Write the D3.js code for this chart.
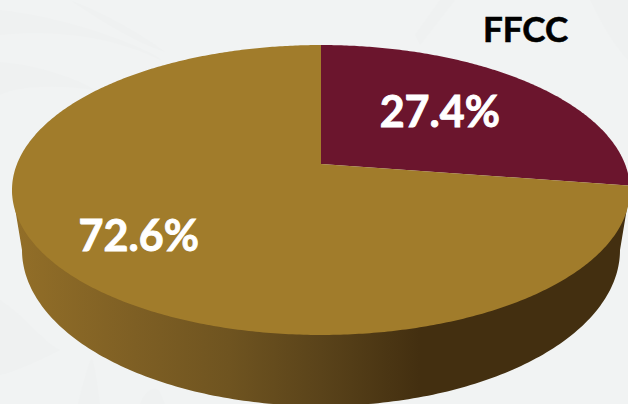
<!DOCTYPE html>
<html>
<head>
<meta charset="utf-8">
<title>FFCC</title>
<script src="https://cdn.jsdelivr.net/npm/d3@7"></script>
<style>
  html, body { margin: 0; padding: 0; background: #f1f3f3; overflow: hidden; }
  svg { display: block; }
  text { font-family: Lato, 'Open Sans', sans-serif; font-weight: 700; }
</style>
</head>
<body>
<div id="chart"></div>
<script>
const categories = ['FFCC', 'Otros'];
const values = [27.4, 72.6];
const sliceLabels = ['27.4%', '72.6%'];
const sliceColors = ['#6b152d', '#a17c2b'];
const title = 'FFCC';

const width = 628;
const height = 404;

// top face is a tilted disc, so the pie apex sits above the middle of the ellipse
const topFace = { cx: 321, apexY: 164, a: 110.9, c: -0.1793, rx: 304 };
const bottomFace = { cx: 321, cy: 250, rx: 299, ry: 156 };

const project = (angle, r) => {
  const u = r * Math.sin(angle);
  const v = -r * Math.cos(angle);
  const w = 1 + topFace.c * v;
  return [topFace.cx + (topFace.rx * u) / w, (topFace.a * v + topFace.apexY) / w];
};

const line = d3.line();

const slicePath = (d) => {
  const n = Math.ceil((d.endAngle - d.startAngle) / 0.01);
  const rim = d3.range(n + 1).map((i) => project(d.startAngle + ((d.endAngle - d.startAngle) * i) / n, 1));
  return `${line([project(0, 0), ...rim])}Z`;
};

const svg = d3.select('#chart')
  .append('svg')
  .attr('width', width)
  .attr('height', height)
  .attr('viewBox', [0, 0, width, height]);

// faint watermark swooshes in the slide background
const swooshes = [
  'M0,10 C90,20 170,60 160,60 C110,35 50,30 0,35Z',
  'M70,0 C110,15 150,40 165,52 C130,40 100,20 70,0Z',
  'M0,62 C40,65 80,80 95,90 C60,85 20,85 0,95Z',
  'M0,300 C30,320 40,340 60,350 C40,360 20,370 0,375Z',
  'M78,404 C85,375 90,360 92,358 C96,370 98,390 100,404Z',
  'M140,404 C145,390 155,385 160,392 L165,404Z',
  'M440,0 L455,0 L420,45 L415,35Z',
  'M590,0 L628,0 L628,60 C610,40 600,20 590,0Z',
];
svg.append('g')
  .selectAll('path')
  .data(swooshes)
  .join('path')
  .attr('d', (d) => d)
  .attr('fill', '#eff1f1');

const defs = svg.append('defs');
const sideGradient = defs.append('linearGradient')
  .attr('id', 'side')
  .attr('gradientUnits', 'userSpaceOnUse')
  .attr('x1', 12)
  .attr('x2', 630)
  .attr('y1', 0)
  .attr('y2', 0);
[
  [0, '#936f28'], [0.2, '#7e5f24'], [0.35, '#6f5420'], [0.5, '#5a431a'], [0.66, '#432f10'], [1, '#432f10'],
].forEach(([offset, color]) => {
  sideGradient.append('stop').attr('offset', offset).attr('stop-color', color);
});

// side wall: hull of the widest points of the top face and the lower half of the bottom ellipse
const bottomRim = d3.range(0, 181).map((deg) => {
  const t = (deg * Math.PI) / 180;
  return [bottomFace.cx + bottomFace.rx * Math.cos(t), bottomFace.cy + bottomFace.ry * Math.sin(t)];
});
const widest = Math.PI / 2 + Math.asin(-topFace.c);
svg.append('path')
  .attr('d', `${line([project(widest, 1), ...bottomRim, project(-widest, 1)])}Z`)
  .attr('fill', 'url(#side)');

const pie = d3.pie().sort(null).value((d) => d);
const slices = pie(values);

svg.append('g')
  .selectAll('path')
  .data(slices)
  .join('path')
  .attr('class', (d, i) => `slice slice-${categories[i]}`)
  .attr('d', slicePath)
  .attr('fill', (d, i) => sliceColors[i]);

const labelSpots = [{ r: 0.615, dx: -13.5 }, { r: 0.72, dx: -1 }];
svg.append('g')
  .selectAll('text')
  .data(slices)
  .join('text')
  .attr('x', (d, i) => project((d.startAngle + d.endAngle) / 2, labelSpots[i].r)[0] + labelSpots[i].dx)
  .attr('y', (d, i) => project((d.startAngle + d.endAngle) / 2, labelSpots[i].r)[1])
  .attr('dy', '0.36em')
  .attr('text-anchor', 'middle')
  .attr('font-size', 43)
  .attr('fill', '#fff')
  .attr('stroke', '#fff')
  .attr('stroke-width', 0.9)
  .text((d, i) => sliceLabels[i]);

svg.append('text')
  .attr('x', 525.5)
  .attr('y', 42)
  .attr('text-anchor', 'middle')
  .attr('font-size', 35)
  .attr('fill', '#000')
  .attr('stroke', '#000')
  .attr('stroke-width', 0.6)
  .text(title);
</script>
</body>
</html>
